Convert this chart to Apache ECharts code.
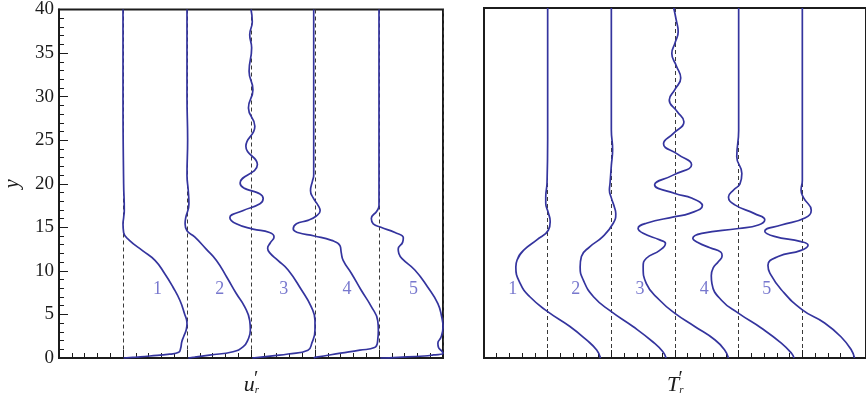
<!DOCTYPE html>
<html>
<head>
<meta charset="utf-8">
<script src="https://cdn.jsdelivr.net/npm/echarts@6/dist/echarts.min.js"></script>
<style>
  html, body { margin: 0; padding: 0; background: #ffffff; }
  #chart { width: 866px; height: 403px; }
</style>
</head>
<body>
<div id="chart"></div>
<script>
// Profiles of u_r' (left panel), each drawn as [offset + value, y] about its station line x = 1..5
const uProfile1 = [[1.00,40],[1.00,30],[1.01,20],[1.02,17],[1.01,16.1],[1.00,15.4],[1.01,14.4],[1.10,13.5],[1.31,12.3],[1.50,11.2],[1.65,9.7],[1.78,8.15],[1.89,6.6],[1.96,5.1],[2.00,4.0],[1.99,3.3],[1.95,2.5],[1.92,1.9],[1.90,1.1],[1.87,0.65],[1.73,0.45],[1.42,0.23],[1.20,0.1],[1.01,0]];
const uProfile2 = [[2.00,40],[2.00,30],[2.01,25],[2.00,21],[2.02,19.2],[2.03,17.7],[1.98,16.1],[1.97,15.4],[2.00,14.6],[2.12,13.9],[2.30,12.5],[2.46,11.2],[2.62,9.3],[2.77,7.4],[2.90,5.9],[2.98,4.3],[2.99,3.2],[2.95,2.06],[2.88,1.3],[2.72,0.72],[2.35,0.34],[2.12,0.1],[2.02,0]];
const uProfile3 = [[3.00,40],[3.02,38.6],[2.98,37.1],[3.01,35.6],[2.97,32.9],[3.03,30.8],[2.96,28.7],[3.06,26.6],[2.92,24.3],[3.10,22.2],[2.83,20.1],[3.19,18.3],[3.14,17.7],[2.87,16.9],[2.67,16.1],[2.77,15.4],[3.03,14.8],[3.29,14.4],[3.36,13.9],[3.30,13.2],[3.26,12.6],[3.29,12.1],[3.42,11.2],[3.58,10.1],[3.79,7.8],[3.94,5.9],[4.00,4.3],[4.00,3.2],[3.95,1.7],[3.89,0.9],[3.58,0.46],[3.37,0.27],[3.02,0]];
const uProfile4 = [[3.98,40],[3.98,25],[3.98,21],[3.96,20.3],[3.93,19.2],[3.97,18.4],[4.05,17.5],[4.08,16.9],[4.02,16.3],[3.89,15.8],[3.71,15.4],[3.66,14.8],[3.73,14.4],[3.99,14.0],[4.26,13.5],[4.39,12.9],[4.41,12.1],[4.44,11.2],[4.57,9.7],[4.72,7.8],[4.88,5.9],[4.98,4.3],[4.99,3.2],[4.98,2.06],[4.93,1.2],[4.70,0.9],[4.40,0.55],[4.02,0.1],[3.98,0]];
const uProfile5 = [[5.00,40],[5.00,25],[5.00,17.5],[4.97,16.9],[4.88,16.0],[4.91,15.4],[5.03,15.0],[5.25,14.4],[5.38,13.8],[5.37,13.3],[5.30,12.5],[5.31,12.0],[5.36,11.4],[5.56,10.1],[5.76,8.15],[5.92,6.25],[5.98,4.7],[6.00,3.6],[5.97,2.4],[5.92,1.7],[5.93,1.2],[5.98,0.8],[6.00,0.54],[5.85,0.35],[5.71,0.23],[5.30,0.08],[5.02,0]];

// Profiles of T_r' (right panel)
const tProfile1 = [[1.00,40],[1.00,25],[0.99,20],[0.97,18.4],[0.97,17.7],[1.01,16.6],[1.04,15.6],[1.01,14.6],[0.83,13.5],[0.62,12.3],[0.52,11.2],[0.50,10.4],[0.57,8.5],[0.72,7.0],[1.00,5.3],[1.35,3.6],[1.61,2.06],[1.77,0.91],[1.83,0]];
const tProfile2 = [[2.00,40],[2.00,30],[2.00,26.1],[2.02,23.8],[2.00,22],[1.98,20.0],[1.97,19.2],[2.00,18.3],[2.05,17.2],[2.07,16.5],[2.03,15.4],[1.87,13.9],[1.66,12.7],[1.53,11.6],[1.51,10.4],[1.56,8.9],[1.72,7.0],[2.00,5.3],[2.34,3.6],[2.65,1.86],[2.81,0.72],[2.86,0]];
const tProfile3 = [[2.98,40],[3.02,38.6],[3.05,37.3],[3.00,36.0],[2.95,34.8],[3.02,33.4],[3.09,32.0],[3.00,30.7],[2.91,29.5],[3.03,28.2],[3.14,27.0],[2.98,25.7],[2.82,24.5],[3.04,23.3],[3.26,22.1],[2.97,20.9],[2.68,19.8],[3.00,18.8],[3.27,18.25],[3.43,17.4],[3.22,16.5],[3.00,16.15],[2.55,15.4],[2.42,14.8],[2.50,14.25],[2.76,13.5],[2.85,13.1],[2.76,12.3],[2.55,11.4],[2.50,10.4],[2.55,8.5],[2.76,6.6],[3.00,5.1],[3.31,3.6],[3.63,2.06],[3.78,0.91],[3.84,0]];
const tProfile4 = [[4.00,40],[4.00,26],[3.97,23.0],[4.05,21.1],[4.02,19.9],[3.92,19.2],[3.84,18.4],[3.94,17.5],[4.25,16.5],[4.41,15.8],[4.31,15.2],[4.00,14.8],[3.42,14.25],[3.28,13.7],[3.36,13.2],[3.55,12.6],[3.72,12.1],[3.74,11.7],[3.68,11.0],[3.60,10.3],[3.57,9.4],[3.58,8.5],[3.73,6.6],[4.00,5.1],[4.36,3.4],[4.67,1.7],[4.83,0.54],[4.87,0]];
const tProfile5 = [[5.00,40],[5.00,20.3],[4.98,19.2],[5.02,18.3],[5.14,16.9],[5.04,16.0],[4.67,15.2],[4.41,14.5],[4.56,13.9],[4.98,13.3],[5.09,12.9],[4.98,12.3],[4.62,11.6],[4.46,10.6],[4.49,9.7],[4.67,7.8],[5.00,5.5],[5.35,4.0],[5.61,2.4],[5.77,0.91],[5.82,0]];

// Station numbers and where they sit in each panel (data coordinates)
const stationNames = ['1', '2', '3', '4', '5'];
const uNameSpots = [[1.54,7.9],[2.51,7.9],[3.51,7.9],[4.50,7.9],[5.54,7.9]];
const tNameSpots = [[0.45,7.9],[1.44,7.9],[2.45,7.9],[3.46,7.9],[4.44,7.9]];

// Axis ranges
const xRange = [0, 6];
const yRange = [0, 40];

const uProfiles = [uProfile1, uProfile2, uProfile3, uProfile4, uProfile5];
const tProfiles = [tProfile1, tProfile2, tProfile3, tProfile4, tProfile5];

const SERIF = 'Liberation Serif';
const INK = '#1c1c1c';
const CURVE = '#34349e';
const NUMBER_INK = '#5656c2';

function profileSeries(profiles, idx) {
  return profiles.map((pts, i) => ({
    name: (idx === 0 ? 'u' : 'T') + stationNames[i],
    type: 'line',
    xAxisIndex: idx,
    yAxisIndex: idx,
    data: pts,
    showSymbol: false,
    smooth: 0.5,
    clip: false,
    lineStyle: { color: CURVE, width: 1.7 },
    z: 3
  }));
}

function numberSeries(spots, idx) {
  return {
    type: 'scatter',
    xAxisIndex: idx,
    yAxisIndex: idx,
    symbolSize: 0,
    data: spots.map((p, i) => [p[0], p[1], stationNames[i]]),
    label: {
      show: true,
      position: 'inside',
      formatter: (p) => p.value[2],
      fontFamily: SERIF,
      fontSize: 18,
      color: NUMBER_INK
    },
    silent: true,
    z: 4
  };
}

function xAxisFor(idx, nameRich) {
  return {
    gridIndex: idx,
    type: 'value',
    min: xRange[0],
    max: xRange[1],
    interval: 1,
    name: nameRich,
    nameLocation: 'middle',
    nameGap: 12,
    nameTextStyle: {
      rich: {
        m: { fontFamily: SERIF, fontStyle: 'italic', fontSize: 22, color: INK, lineHeight: 26, verticalAlign: 'bottom' },
        s: { fontFamily: SERIF, fontStyle: 'italic', fontSize: 11, color: INK, lineHeight: 26, verticalAlign: 'bottom' },
        p: { fontFamily: SERIF, fontSize: 20, color: INK, lineHeight: 26, verticalAlign: 'top', padding: [0, 0, 0, -5] }
      }
    },
    axisLine: { show: true, lineStyle: { color: INK, width: 2 } },
    axisTick: { show: true, inside: true, length: 8, lineStyle: { color: INK, width: 1 } },
    minorTick: { show: true, splitNumber: 5, length: 5, lineStyle: { color: INK, width: 1 } },
    axisLabel: { show: false },
    splitLine: { show: true, lineStyle: { color: '#3a3a3a', width: 1, type: [4, 3] } }
  };
}

const option = {
  animation: false,
  backgroundColor: '#ffffff',
  grid: [
    { left: 59, top: 8, width: 384, height: 350, show: true, borderColor: INK, borderWidth: 2, backgroundColor: 'transparent' },
    { left: 484, top: 8, width: 384, height: 350, show: true, borderColor: INK, borderWidth: 2, backgroundColor: 'transparent' }
  ],
  xAxis: [
    xAxisFor(0, '{m|u}{s|r}{p|′}'),
    xAxisFor(1, '{m|T}{s|r}{p|′}')
  ],
  yAxis: [
    {
      gridIndex: 0,
      type: 'value',
      min: yRange[0],
      max: yRange[1],
      interval: 5,
      name: 'y',
      nameLocation: 'middle',
      nameRotate: 90,
      nameGap: 36,
      nameMoveOverlap: false,
      nameTextStyle: { fontFamily: SERIF, fontStyle: 'italic', fontSize: 20, color: INK },
      axisLine: { show: true, lineStyle: { color: INK, width: 2 } },
      axisTick: { show: true, inside: true, length: 9, lineStyle: { color: INK, width: 1 } },
      minorTick: { show: true, splitNumber: 5, length: 5, lineStyle: { color: INK, width: 1 } },
      axisLabel: { show: true, fontFamily: SERIF, fontSize: 19, color: INK, margin: 5 },
      splitLine: { show: false }
    },
    {
      gridIndex: 1,
      type: 'value',
      min: yRange[0],
      max: yRange[1],
      interval: 5,
      axisLine: { show: true, lineStyle: { color: INK, width: 2 } },
      axisTick: { show: false },
      axisLabel: { show: false },
      splitLine: { show: false }
    }
  ],
  series: [
    ...profileSeries(uProfiles, 0),
    ...profileSeries(tProfiles, 1),
    numberSeries(uNameSpots, 0),
    numberSeries(tNameSpots, 1)
  ]
};

const chart = echarts.init(document.getElementById('chart'), null, { renderer: 'canvas' });
chart.setOption(option);
</script>
</body>
</html>
